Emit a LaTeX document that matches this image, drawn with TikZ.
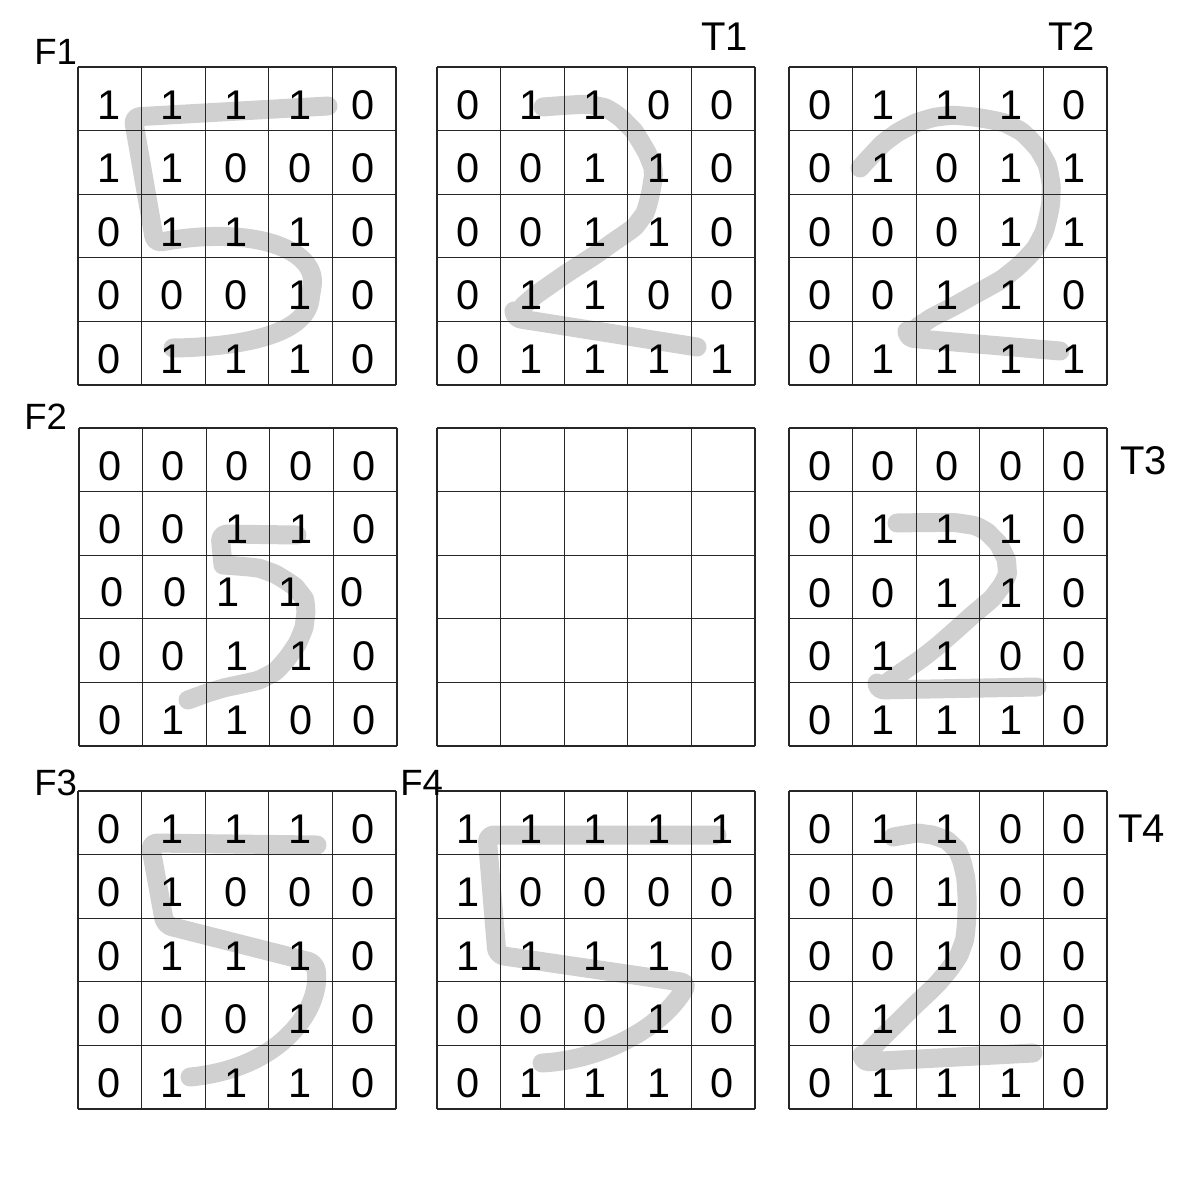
\documentclass[tikz,border=0pt]{standalone}
\usepackage{fontspec}
\setmainfont{Liberation Sans}
\definecolor{inkgray}{RGB}{208,208,208}
\tikzset{
  cellline/.style={line width=0.8pt, black!85},
  digit/.style={font=\fontsize{29.5}{33}\selectfont, inner sep=0pt},
  gridname/.style={font=\fontsize{26}{30}\selectfont, anchor=base west, inner sep=0pt},
  targetname/.style={font=\fontsize{28.5}{32}\selectfont, anchor=base west, inner sep=0pt},
  inkstroke/.style={draw=inkgray, line width=13.5pt, line cap=round, line join=round, rounded corners=5pt},
}
% empty 5x5 grid: #1 left, #2 top
\newcommand{\cellgrid}[2]{%
  \foreach \i in {0,...,5} {
    \draw[cellline] ({#1+\i*63.6},#2) -- ({#1+\i*63.6},{#2+318});
    \draw[cellline] (#1,{#2+\i*63.6}) -- ({#1+318},{#2+\i*63.6});
  }
}
% grid with digits: #1 name, #2 left, #3 top, #4 rows as r/{values}
\newcommand{\digitgrid}[4]{%
  \cellgrid{#2}{#3}
  \foreach \r/\vals in {#4} {
    \foreach \v [count=\c] in \vals {
      \node[digit] (#1-\r-\c) at ({#2+(\c-0.5)*63.6-1},{#3+(\r-0.5)*63.6+6}) {\v};
    }
  }
}
\begin{document}
\begin{tikzpicture}[x=0.025cm,y=-0.025cm]
\useasboundingbox (0,0) rectangle (1200,1200);

% handwritten strokes
\draw[inkstroke] (328,106) -- (133,117) -- (155,243)
  .. controls (255,225) and (318,250) .. (311,293)
  .. controls (305,335) and (240,347) .. (173,348);
\draw[inkstroke] plot[smooth] coordinates {(543,107) (597,106) (628,125) (650,160) (652,185) (640,220) (605,248) (560,278) (530,300) (514,318)} -- (697,347);
\draw[inkstroke] plot[smooth] coordinates {(860,168) (890,138) (925,120) (963,116) (1013,127) (1043,157) (1051,195) (1040,240) (1010,273) (965,300) (925,322) (907,338)} -- (1060,351);
\draw[inkstroke] (297,535) -- (220,534) -- (223,565)
  plot[smooth] coordinates {(223,565) (267,571) (300,593) (305,620) (293,650) (267,676) (217,690) (188,700)};
\draw[inkstroke] plot[smooth] coordinates {(897,523) (965,524) (993,538) (1007,567) (997,592) (967,620) (930,652) (895,677) (877,690)} -- (1037,687);
\draw[inkstroke] (317,845) -- (150,843) -- (165,925) -- (315,963)
  .. controls (322,1005) and (285,1068) .. (190,1077);
\draw[inkstroke] (717,835) -- (487,835) -- (497,955) -- (688,983)
  .. controls (660,1030) and (600,1060) .. (542,1063);
\draw[inkstroke] plot[smooth] coordinates {(893,837) (925,834) (952,845) (964,870) (967,910) (962,947) (943,977) (907,1013) (875,1045) (862,1062)} -- (1033,1053);

% grids
\digitgrid{F1}{78}{67}{1/{1,1,1,1,0},2/{1,1,0,0,0},3/{0,1,1,1,0},4/{0,0,0,1,0},5/{0,1,1,1,0}}
\digitgrid{T1}{437}{67}{1/{0,1,1,0,0},2/{0,0,1,1,0},3/{0,0,1,1,0},4/{0,1,1,0,0},5/{0,1,1,1,1}}
\digitgrid{T2}{789}{67}{1/{0,1,1,1,0},2/{0,1,0,1,1},3/{0,0,0,1,1},4/{0,0,1,1,0},5/{0,1,1,1,1}}
\digitgrid{F2}{79}{428}{1/{0,0,0,0,0},2/{0,0,1,1,0},4/{0,0,1,1,0},5/{0,1,1,0,0}}
\node[digit] (F2-3-1) at (112,592) {0};
\node[digit] (F2-3-2) at (175,592) {0};
\node[digit] (F2-3-3) at (228,592) {1};
\node[digit] (F2-3-4) at (290,592) {1};
\node[digit] (F2-3-5) at (352,592) {0};
\cellgrid{437}{428}
\digitgrid{T3}{789}{428}{1/{0,0,0,0,0},2/{0,1,1,1,0},3/{0,0,1,1,0},4/{0,1,1,0,0},5/{0,1,1,1,0}}
\digitgrid{F3}{78}{791}{1/{0,1,1,1,0},2/{0,1,0,0,0},3/{0,1,1,1,0},4/{0,0,0,1,0},5/{0,1,1,1,0}}
\digitgrid{F4}{437}{791}{1/{1,1,1,1,1},2/{1,0,0,0,0},3/{1,1,1,1,0},4/{0,0,0,1,0},5/{0,1,1,1,0}}
\digitgrid{T4}{789}{791}{1/{0,1,1,0,0},2/{0,0,1,0,0},3/{0,0,1,0,0},4/{0,1,1,0,0},5/{0,1,1,1,0}}

% labels
\node[gridname] (F1) at (34,65) {F1};
\node[gridname] (F2) at (24,429) {F2};
\node[gridname] (F3) at (34,795) {F3};
\node[gridname] (F4) at (400,795) {F4};
\node[targetname] (T1) at (701,51) {T1};
\node[targetname] (T2) at (1048,51) {T2};
\node[targetname] (T3) at (1120,474) {T3};
\node[targetname] (T4) at (1118,842) {T4};
\end{tikzpicture}
\end{document}
